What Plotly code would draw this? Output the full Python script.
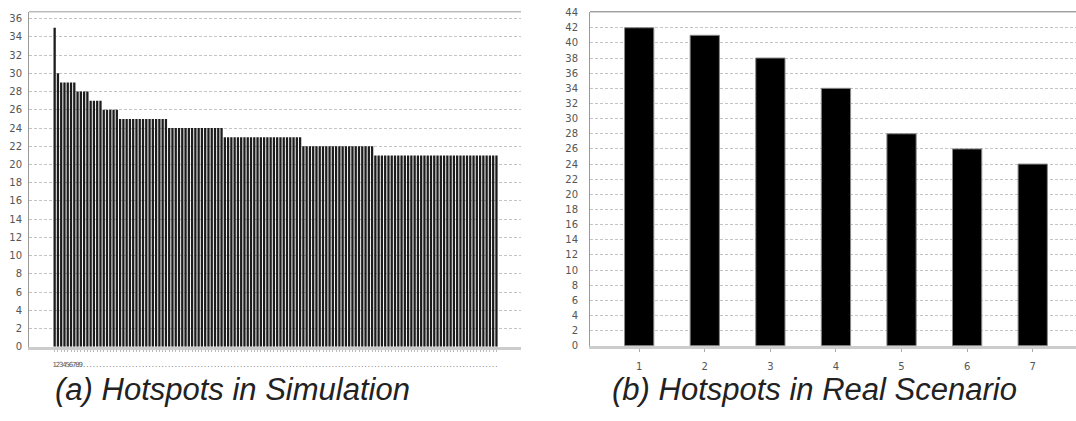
import plotly.graph_objects as go

# ---- data ----
sim_values = [
    35, 30,
    29, 29, 29, 29, 29,
    28, 28, 28, 28,
    27, 27, 27, 27,
    26, 26, 26, 26, 26,
    25, 25, 25, 25, 25, 25, 25, 25, 25, 25, 25, 25, 25, 25, 25,
    24, 24, 24, 24, 24, 24, 24, 24, 24, 24, 24, 24, 24, 24, 24, 24, 24,
    23, 23, 23, 23, 23, 23, 23, 23, 23, 23, 23, 23,
    23, 23, 23, 23, 23, 23, 23, 23, 23, 23, 23, 23,
    22, 22, 22, 22, 22, 22, 22, 22, 22, 22, 22,
    22, 22, 22, 22, 22, 22, 22, 22, 22, 22, 22,
    21, 21, 21, 21, 21, 21, 21, 21, 21, 21, 21, 21, 21,
    21, 21, 21, 21, 21, 21, 21, 21, 21, 21, 21, 21, 21,
    21, 21, 21, 21, 21, 21, 21, 21, 21, 21, 21, 21,
]
sim_categories = list(range(1, len(sim_values) + 1))
sim_ticktext = [str(c) if c < 10 else "." for c in sim_categories]

real_categories = [1, 2, 3, 4, 5, 6, 7]
real_values = [42, 41, 38, 34, 28, 26, 24]
real_ticktext = ["1", "2", "3", "4", "5", "6", "7"]

captions = ["(a) Hotspots in Simulation", "(b) Hotspots in Real Scenario"]

W, H = 1076, 421
tick_font = dict(family="DejaVu Sans", size=10, color="#555555")
grid_color = "#c4c4c4"

fig = go.Figure()
fig.add_trace(go.Bar(
    x=sim_categories, y=sim_values, xaxis="x", yaxis="y",
    marker=dict(color="#1c1c1c", line=dict(color="#000000", width=0)),
    width=0.7, showlegend=False,
))
fig.add_trace(go.Bar(
    x=real_categories, y=real_values, xaxis="x2", yaxis="y2",
    marker=dict(color="#000000", line=dict(color="#888888", width=1)),
    width=0.446, showlegend=False,
))

ybot1, ytop1 = (H - 351) / H, (H - 7) / H
ybot2, ytop2 = (H - 350) / H, (H - 7) / H

fig.update_layout(
    width=W, height=H,
    margin=dict(l=0, r=0, t=0, b=0),
    paper_bgcolor="white", plot_bgcolor="white",
    barmode="overlay",
    xaxis=dict(
        domain=[29 / W, 521 / W], anchor="y",
        range=[-6.84, 143.5],
        tickmode="array", tickvals=sim_categories, ticktext=sim_ticktext,
        tickangle=0, tickfont=dict(family="DejaVu Sans", size=7, color="#555555"),
        ticks="outside", ticklen=2, tickcolor="#bbbbbb", tickwidth=0.5,
        showgrid=False, zeroline=False,
        showline=True, linecolor="#cccccc", linewidth=3,
        ticklabelstandoff=7,
    ),
    yaxis=dict(
        domain=[ybot1, ytop1], anchor="x",
        range=[0, 36.75],
        tickmode="array", tickvals=list(range(0, 37, 2)),
        tickfont=tick_font,
        showgrid=True, gridcolor=grid_color, griddash="3px,2px", gridwidth=1,
        zeroline=False,
        showline=True, linecolor="#999999", linewidth=1, mirror=False,
        ticklabelstandoff=4,
    ),
    xaxis2=dict(
        domain=[590 / W, 1.0], anchor="y2",
        range=[0.25, 7.66],
        tickmode="array", tickvals=real_categories, ticktext=real_ticktext,
        tickangle=0, tickfont=tick_font,
        ticks="outside", ticklen=3, tickcolor="#aaaaaa", tickwidth=1,
        showgrid=False, zeroline=False,
        showline=True, linecolor="#cccccc", linewidth=3,
        ticklabelstandoff=6,
    ),
    yaxis2=dict(
        domain=[ybot2, ytop2], anchor="x2",
        range=[0, 44.1],
        tickmode="array", tickvals=list(range(0, 45, 2)),
        tickfont=tick_font,
        showgrid=True, gridcolor=grid_color, griddash="3px,2px", gridwidth=1,
        zeroline=False,
        showline=True, linecolor="#999999", linewidth=1,
        ticklabelstandoff=9,
    ),
    shapes=[
        dict(type="line", xref="x domain", yref="y domain", x0=0, x1=1, y0=1, y1=1,
             line=dict(color="#999999", width=1)),
        dict(type="line", xref="x2 domain", yref="y2 domain", x0=0, x1=1, y0=1, y1=1,
             line=dict(color="#777777", width=1)),
    ],
    annotations=[
        dict(text="<i>" + captions[0] + "</i>", xref="paper", yref="paper",
             x=232 / W, y=(H - 395) / H, showarrow=False, xanchor="center", yanchor="middle",
             font=dict(family="Liberation Sans", size=31, color="#222222")),
        dict(text="<i>" + captions[1] + "</i>", xref="paper", yref="paper",
             x=814 / W, y=(H - 395) / H, showarrow=False, xanchor="center", yanchor="middle",
             font=dict(family="Liberation Sans", size=31, color="#222222")),
    ],
)

fig.write_html("out.html")
